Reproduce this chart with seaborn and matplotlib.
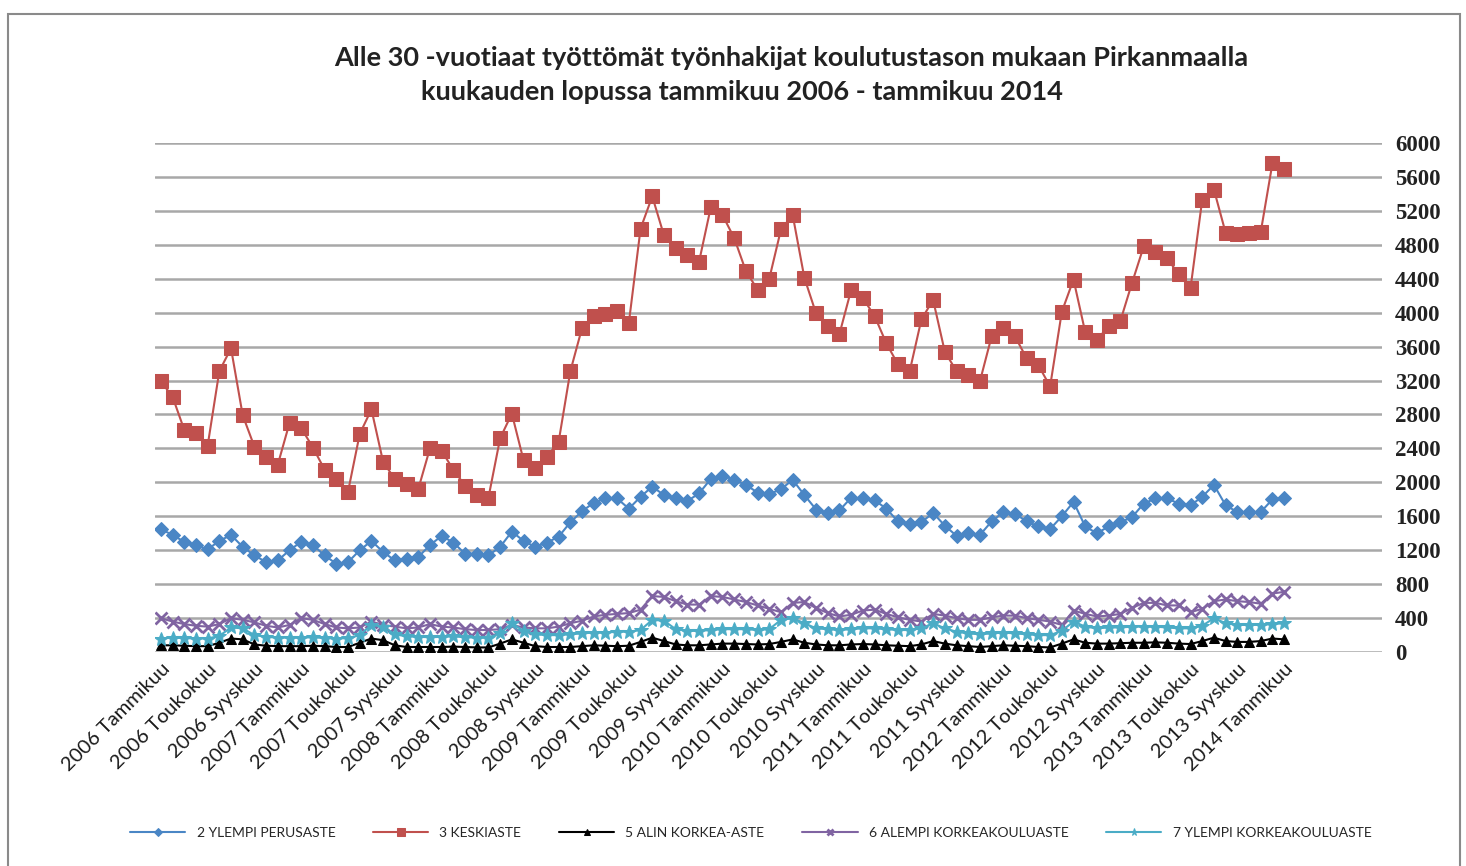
import numpy as np
import pandas as pd
import matplotlib
matplotlib.use("Agg")
import matplotlib.pyplot as plt
import seaborn as sns
from matplotlib.patches import Rectangle

# monthly values, Tammikuu 2006 - Tammikuu 2014 (97 months)
ylempi_perus = [1450, 1380, 1300, 1260, 1210, 1310, 1380, 1240, 1140, 1060, 1080, 1200,
                1300, 1260, 1140, 1040, 1060, 1200, 1310, 1180, 1080, 1100, 1120, 1260,
                1370, 1290, 1160, 1160, 1140, 1240, 1420, 1310, 1240, 1290, 1360, 1530,
                1660, 1760, 1810, 1810, 1690, 1830, 1950, 1850, 1810, 1780, 1870, 2040,
                2080, 2030, 1970, 1880, 1860, 1920, 2030, 1850, 1680, 1640, 1670, 1820,
                1810, 1790, 1690, 1540, 1510, 1530, 1640, 1490, 1370, 1400, 1380, 1540,
                1650, 1630, 1540, 1480, 1450, 1600, 1770, 1480, 1400, 1480, 1530, 1590,
                1750, 1810, 1810, 1750, 1730, 1830, 1970, 1730, 1650, 1650, 1650, 1800,
                1820]
keskiaste = [3190, 3010, 2620, 2580, 2430, 3310, 3580, 2790, 2420, 2300, 2210, 2700,
             2640, 2410, 2150, 2040, 1890, 2570, 2860, 2240, 2040, 1980, 1920, 2400,
             2370, 2150, 1960, 1850, 1820, 2520, 2810, 2260, 2170, 2300, 2480, 3310,
             3820, 3960, 3980, 4020, 3880, 4990, 5370, 4910, 4760, 4680, 4600, 5240,
             5150, 4880, 4490, 4270, 4400, 4980, 5150, 4410, 3990, 3840, 3750, 4270,
             4170, 3960, 3640, 3390, 3310, 3920, 4150, 3540, 3310, 3270, 3190, 3720,
             3820, 3720, 3460, 3380, 3130, 4010, 4390, 3770, 3680, 3840, 3900, 4350,
             4780, 4720, 4640, 4450, 4290, 5330, 5450, 4940, 4930, 4940, 4950, 5760,
             5690]
alin_korkea = [80, 80, 75, 70, 70, 110, 160, 150, 90, 75, 70, 70,
               70, 75, 70, 60, 60, 110, 160, 140, 80, 60, 60, 60,
               60, 65, 60, 55, 55, 100, 150, 110, 70, 60, 60, 60,
               70, 80, 75, 70, 75, 120, 170, 130, 90, 80, 80, 90,
               100, 100, 95, 90, 95, 120, 150, 110, 90, 80, 80, 90,
               95, 90, 80, 75, 70, 90, 130, 100, 80, 70, 60, 70,
               80, 75, 70, 60, 55, 100, 150, 110, 100, 100, 105, 110,
               110, 115, 110, 100, 95, 130, 170, 130, 120, 120, 130, 160,
               150]
alempi_kk = [400, 360, 330, 310, 300, 330, 400, 380, 350, 310, 290, 320,
             400, 380, 330, 290, 280, 290, 360, 320, 300, 280, 290, 330,
             300, 290, 270, 260, 260, 270, 320, 290, 280, 280, 300, 340,
             370, 420, 440, 450, 460, 500, 660, 650, 600, 560, 560, 660,
             650, 620, 590, 550, 510, 470, 580, 590, 520, 460, 420, 440,
             490, 500, 450, 410, 380, 360, 450, 430, 400, 380, 380, 410,
             430, 430, 400, 380, 360, 320, 490, 450, 420, 430, 450, 520,
             580, 580, 550, 550, 470, 510, 600, 620, 600, 590, 570, 690,
             710]
ylempi_kk = [160, 170, 165, 160, 160, 190, 290, 280, 200, 180, 170, 170,
             170, 175, 165, 160, 165, 200, 320, 300, 210, 185, 180, 175,
             180, 185, 175, 170, 170, 220, 340, 250, 210, 200, 200, 210,
             220, 230, 230, 240, 240, 260, 380, 370, 270, 250, 250, 260,
             270, 270, 270, 260, 270, 380, 400, 340, 280, 270, 260, 270,
             280, 280, 270, 260, 260, 280, 340, 280, 240, 220, 210, 220,
             230, 220, 210, 200, 200, 250, 360, 300, 280, 290, 290, 300,
             300, 300, 290, 280, 280, 310, 400, 340, 320, 320, 320, 330,
             340]

series_names = ["2 YLEMPI PERUSASTE", "3 KESKIASTE", "5 ALIN KORKEA-ASTE",
                "6 ALEMPI KORKEAKOULUASTE", "7 YLEMPI KORKEAKOULUASTE"]
tick_labels = []
for year in range(2006, 2014):
    for m in ["Tammikuu", "Toukokuu", "Syyskuu"]:
        tick_labels.append(f"{year} {m}")
tick_labels.append("2014 Tammikuu")

months = np.arange(len(keskiaste))
df = pd.DataFrame({
    "kk": np.tile(months, 5),
    "arvo": ylempi_perus + keskiaste + alin_korkea + alempi_kk + ylempi_kk,
    "sarja": np.repeat(series_names, len(months)),
})

sns.set_style("white")
plt.rcParams["font.family"] = ["Lato", "DejaVu Sans"]

fig = plt.figure(figsize=(14.66, 8.66), dpi=100)
ax = fig.add_axes([0.1057, 0.247, 0.8373, 0.588])

styles = {
    "2 YLEMPI PERUSASTE": dict(color="#4a86c5", marker="D", markersize=7),
    "3 KESKIASTE": dict(color="#c0504d", marker="s", markersize=10.5),
    "5 ALIN KORKEA-ASTE": dict(color="black", marker="^", markersize=7),
    "6 ALEMPI KORKEAKOULUASTE": dict(color="#8064a2", marker="x", markersize=8, markeredgewidth=2),
    "7 YLEMPI KORKEAKOULUASTE": dict(color="#4bacc6", marker="*", markersize=10),
}
for name in series_names:
    st = styles[name]
    sns.lineplot(data=df[df["sarja"] == name], x="kk", y="arvo", ax=ax,
                 label=name, linewidth=1.5, markeredgecolor=st["color"], **st)

ax.set_xlim(-0.5, 104.4)
ax.set_ylim(0, 6000)
ax.set_yticks(range(0, 6001, 400))
ax.yaxis.tick_right()
ax.grid(axis="y", color="#a8a8a8", linewidth=1.8)
ax.set_axisbelow(True)
for s in ax.spines.values():
    s.set_visible(False)
ax.tick_params(length=0)
ax.set_xticks(range(0, 97, 4))
ax.set_xticklabels(tick_labels, rotation=45, ha="right", rotation_mode="anchor",
                   fontsize=14.5, color="#1a1a1a")
for lab in ax.get_yticklabels():
    lab.set_fontfamily("Liberation Serif")
    lab.set_fontweight("bold")
    lab.set_fontsize(16.5)
    lab.set_color("#222222")
ax.tick_params(axis="y", pad=9)
ax.tick_params(axis="x", pad=6)
ax.set_xlabel("")
ax.set_ylabel("")

handles, labels = ax.get_legend_handles_labels()
ax.get_legend().remove()
fig.legend(handles, labels, loc="center", bbox_to_anchor=(0.512, 0.038), ncol=5,
           frameon=False, fontsize=10, handlelength=4, columnspacing=2.7,
           markerscale=0.55)

fig.text(0.5396, 0.933, "Alle 30 -vuotiaat työttömät työnhakijat koulutustason mukaan Pirkanmaalla",
         ha="center", va="center", fontsize=19.5, fontweight="bold", color="#222222")
fig.text(0.506, 0.894, "kuukauden lopussa tammikuu 2006 - tammikuu 2014",
         ha="center", va="center", fontsize=19.5, fontweight="bold", color="#222222")

fig.patches.append(Rectangle((0.0055, -0.01), 0.9905, 0.994, transform=fig.transFigure,
                             fill=False, edgecolor="#8a8a8a", linewidth=1.5))

fig.savefig("out.png", dpi=100)
